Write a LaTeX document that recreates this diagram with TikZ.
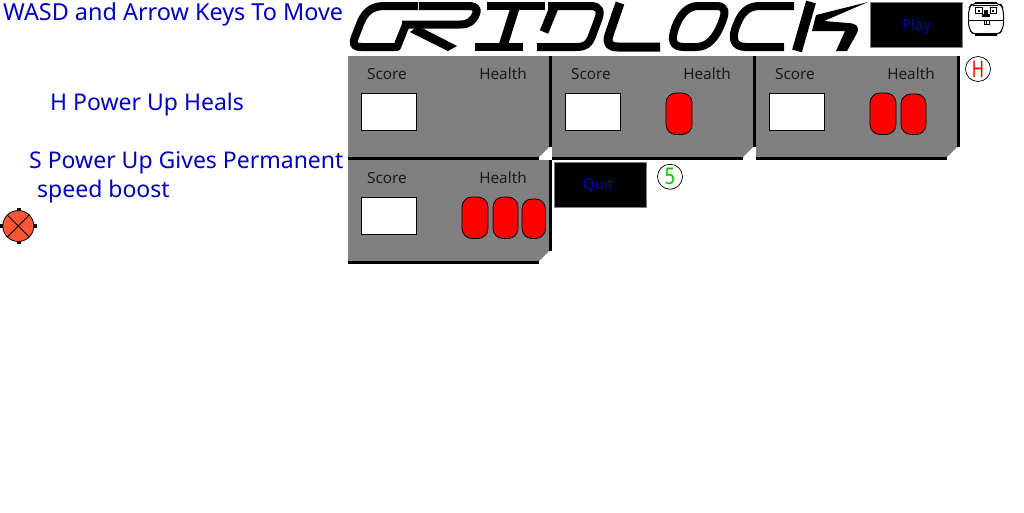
\documentclass[tikz,border=0pt]{standalone}
\usepackage{fontspec}
\setmainfont{Noto Sans}
\definecolor{txtblue}{HTML}{0000C0}
\definecolor{btnblue}{HTML}{0000B4}
\definecolor{panelgray}{HTML}{808080}
\definecolor{labelink}{HTML}{1A1A1A}
\definecolor{ballfill}{HTML}{FF5733}
\definecolor{greenS}{HTML}{00C800}
\tikzset{
  x=1pt,y=-1pt,
  info/.style={anchor=base west,inner sep=0pt,text=txtblue,font=\fontsize{23}{23}\selectfont},
  panellabel/.style={anchor=base,inner sep=0pt,text=labelink,font=\fontsize{15.3}{16}\selectfont},
  btnlabel/.style={inner sep=0pt,text=btnblue,font=\fontsize{15}{16}\selectfont},
  btn/.style={draw=panelgray,line width=1pt,fill=black},
  logo/.style={draw=black,line width=8pt,line join=round},
  heart/.style={draw=black,fill=red,line width=0.8pt,rounded corners=10pt},
  powerup/.style={circle,draw=black,line width=0.7pt,fill=white,minimum size=25pt,inner sep=0pt,font=\fontsize{23}{23}\selectfont}
}
\newcommand{\gridpanel}[4]{%
  \begin{scope}[shift={(#1,#2)}]
    \fill[panelgray] (0,0)--(201,0)--(201,91)--(191,101)--(0,101)--cycle;
    \fill[black] (201,0) rectangle (204,91);
    \fill[black] (0,101) rectangle (191,104);
    \node[panellabel] (#3score) at (39,23) {Score};
    \node[panellabel] (#3health) at (155,23) {Health};
    \node[draw=black,line width=0.8pt,fill=white,minimum width=55.2pt,minimum height=37.2pt,inner sep=0pt] (#3box) at (41,56) {};
    #4
  \end{scope}}
\begin{document}
\begin{tikzpicture}
\useasboundingbox (0,0) rectangle (1024,512);
\fill[white] (0,0) rectangle (1024,512);
% instructions
\node[info,font=\fontsize{23.4}{23}\selectfont] (wasd) at (3,20) {WASD and Arrow Keys To Move};
\node[info] (heal) at (50,110) {H Power Up Heals};
\node[info] (speedA) at (29,168) {S Power Up Gives Permanent};
\node[info] (speedB) at (37,197) {speed boost};
% logo
\begin{scope}
 \draw[logo] (418,6) -- (384,6) .. controls (370,6) and (364,14) .. (360,24) -- (355,37) .. controls (352,45) and (354,47) .. (362,47) -- (397,47) -- (406,24.5);
 \draw[logo] (419,6) -- (468,6) .. controls (477,6) and (478,10) .. (476,14) .. controls (473,21) and (469,24.5) .. (460,24.5) -- (402,24.5);
 \fill[black] (410,32) -- (418,26) -- (457,46) -- (448,51) -- cycle;
 \draw[logo] (487,6) -- (545,6);
 \draw[logo,line width=9pt] (515,8) -- (503,46);
 \draw[logo] (475,47) -- (523,47);
 \draw[logo,line width=9pt] (555,5) -- (544,32);
 \draw[logo] (548,6) -- (590,6) .. controls (601,6) and (601,12) .. (598,20) -- (592,36) .. controls (589,44) and (586,47) .. (576,47) -- (537,47);
 \draw[logo,line width=9pt] (620,3) -- (609,35) .. controls (606,44) and (610,47) .. (618,47) -- (660,47);
 \draw[logo] (698,6) -- (716,6) .. controls (726,6) and (726,12) .. (722,22) .. controls (716,38) and (708,47) .. (696,47) -- (684,47) .. controls (672,47) and (671,40) .. (675,28) .. controls (680,14) and (688,6) .. (698,6) -- cycle;
 \draw[logo] (794,6) -- (760,6) .. controls (748,6) and (742,12) .. (737,24) .. controls (731,38) and (733,47) .. (746,47) -- (784,47);
 \draw[logo,line width=10pt] (811,2) -- (797,51);
 \fill[black] (868,2) -- (816,15) -- (812,31) -- (845,31) -- (836,51) -- (847,51) -- (857,33) .. controls (860,26) and (856,23.5) .. (848,23) -- (824,21) -- cycle;
\end{scope}
% buttons
\node[btn,minimum width=92pt,minimum height=45pt,inner sep=0pt] (playbtn) at (916.5,25) {};
\node[btnlabel] (play) at (916.5,27) {Play};
\node[btn,minimum width=92pt,minimum height=45pt,inner sep=0pt] (quitbtn) at (600.5,184.5) {};
\node[btnlabel] (quit) at (598,185) {Quit};
% panels
\gridpanel{348}{56}{a}{}
\gridpanel{552}{56}{b}{\draw[heart] (114,37) rectangle (140,78.5);}
\gridpanel{756}{56}{c}{\draw[heart] (114,37) rectangle (140,78.5);\draw[heart] (145,38) rectangle (170,78.5);}
\gridpanel{348}{160}{d}{\draw[heart] (114,37) rectangle (140,78.5);\draw[heart] (145,37) rectangle (170,78.5);\draw[heart] (174,39) rectangle (197.5,78.5);}
% power ups
\node[powerup,text=red] (hpow) at (978,69) {\scalebox{0.72}[1]{H}};
\node[powerup,text=greenS] (spow) at (670,176.7) {\scalebox{0.8}[1]{5}};
% ball
\node[circle,draw=black,line width=0.8pt,fill=ballfill,minimum size=31pt,inner sep=0pt] (ball) at (18.3,226) {};
\draw[black,line width=0.8pt] (ball.north west) -- (ball.south east);
\draw[black,line width=0.8pt] (ball.north east) -- (ball.south west);
\fill[black] (16.5,208) rectangle (20.5,211);
\fill[black] (16.5,241) rectangle (20.5,244);
\fill[black] (0,224) rectangle (3,228);
\fill[black] (33.5,224) rectangle (36.5,228);
% face
\begin{scope}
 \draw[black,line width=1pt,fill=white,rounded corners=6pt] (972,3) -- (1000,3) -- (1003.5,9) -- (1003.5,29) -- (998,35) -- (974,35) -- (968.5,29) -- (968.5,9) -- cycle;
 \fill[black] (975,1.5) rectangle (997,4);
 \fill[black] (975,33) rectangle (997,36);
 \draw[black,line width=1pt] (973,5.5) -- (998,5.5);
 \draw[black,line width=1pt] (975.7,7.5) rectangle (982,13.5);
 \draw[black,line width=1pt] (990,7.5) rectangle (996.3,13.5);
 \fill[black] (978,10) rectangle (979.6,11.6);
 \fill[black] (992.4,10) rectangle (994,11.6);
 \fill[black] (984,10) rectangle (988,14);
 \fill[black] (982,14) rectangle (990,17);
 \draw[black,line width=1pt] (968.5,20) -- (1003.5,20);
 \draw[black,line width=1pt] (984,20) rectangle (989,24);
 \draw[black,line width=1pt] (986.5,20) -- (986.5,24);
\end{scope}
\end{tikzpicture}
\end{document}
